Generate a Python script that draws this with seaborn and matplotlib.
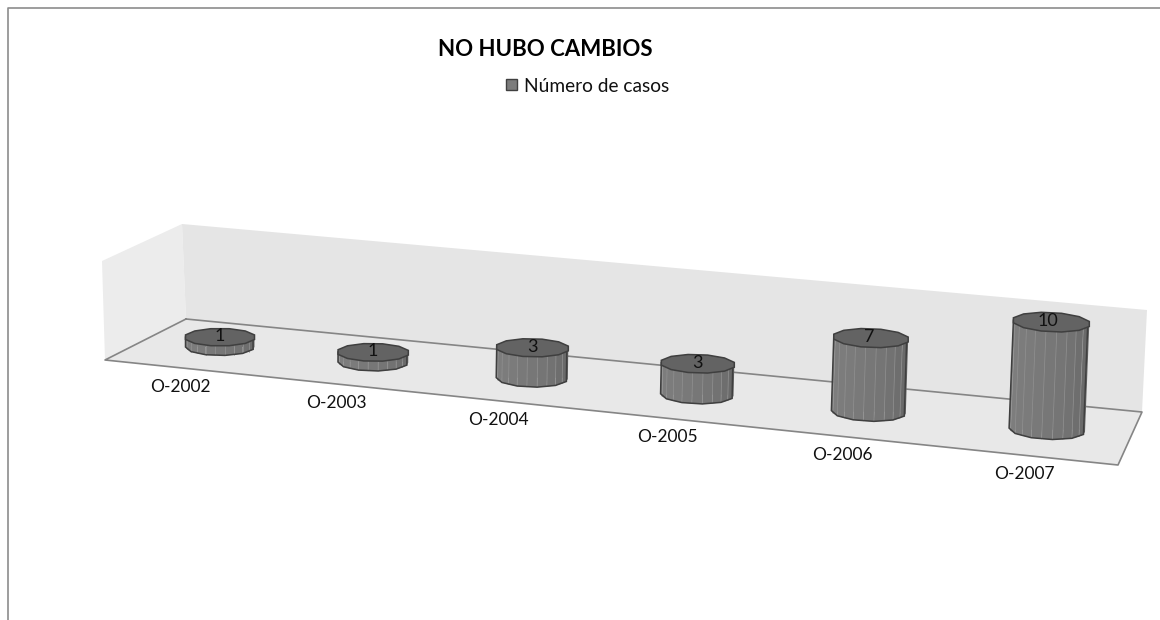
import numpy as np
import pandas as pd
import seaborn as sns
import matplotlib
matplotlib.use("Agg")
import matplotlib.pyplot as plt

# Data
periods = ["O-2002", "O-2003", "O-2004", "O-2005", "O-2006", "O-2007"]
casos = [1, 1, 3, 3, 7, 10]
serie = "Número de casos"
titulo = "NO HUBO CAMBIOS"

sns.set_theme(style="white")
plt.rcParams["font.family"] = ["Lato", "DejaVu Sans"]

fig, ax = plt.subplots(figsize=(11.6, 6.2), dpi=100)
ax.set_position([0, 0, 1, 1])

df = pd.DataFrame({"periodo": periods, "casos": casos})
sns.barplot(data=df, x="periodo", y="casos", color="#747474", saturation=1,
            label=serie, ax=ax, zorder=3)
bars = list(ax.patches)

# from here on the axes is in screen pixels, y going down
ax.set_xlim(0, 1160)
ax.set_ylim(620, 0)
ax.axis("off")


# perspective of the floor: category position -> screen centre, scale
def project(i, v=0):
    s = 1 / (1 - 0.01825 * i)
    cx = (220 + 146.3 * i) * s
    base = (347 + 8.75 * i) * s
    return cx, base, base - 9.8 * v * s, s


# chart frame
ax.plot([8, 8, 1160], [620, 8, 8], color="#8c8c8c", lw=1.2, zorder=1)

# walls and floor
ax.fill([102, 182, 186, 105], [261, 224, 319, 360], color="#ececec", lw=0, zorder=1)
ax.fill([182, 1147, 1142, 186], [224, 310, 412, 319], color="#e5e5e5", lw=0, zorder=1)
ax.fill([105, 186, 1142, 1118], [360, 319, 412, 465], color="#e8e8e8", lw=0, zorder=1)
ax.plot([186, 105, 1118, 1142, 186], [319, 360, 465, 412, 319],
        color="#858585", lw=1.2, zorder=2)

# cylinders
m = 11
for i, (bar, v) in enumerate(zip(bars, casos)):
    cx, base, top, s = project(i, v)
    a = 34.5 * s
    b = 8.5 * s
    h = base - top
    lean = 0.04 * h * i / 5
    tilt = 0.05 * i / 5

    bar.set_x(cx - a * 0.9)
    bar.set_width(a * 1.8)
    bar.set_y(top)
    bar.set_height(h)

    th = np.linspace(np.pi, 0, m + 1)
    xb = cx + a * np.cos(th)
    yb = base + b * np.sin(th) + tilt * a * np.cos(th)
    xt = xb + lean
    yt = top + b * np.sin(th) + tilt * a * np.cos(th)

    # side facets, darker to the right
    for k in range(m):
        g = 0.49 - 0.09 * (k / (m - 1)) ** 2
        ax.fill([xb[k], xb[k + 1], xt[k + 1], xt[k]],
                [yb[k], yb[k + 1], yt[k + 1], yt[k]],
                color=(g, g, g), lw=0, zorder=4)
    for k in range(1, m):
        ax.plot([xb[k], xt[k]], [yb[k], yt[k]], color="#929292", lw=0.5, zorder=5)

    # outline has fewer corners than the stripes
    xo = xb[::2]
    yo = yb[::2]
    ax.fill(np.r_[xo, xo[-1] + lean, xo[0] + lean], np.r_[yo, yt[-1], yt[0]],
            fill=False, ec="#3f3f3f", lw=1.1, zorder=6)

    # top, a many sided polygon
    ang = np.linspace(0, 2 * np.pi, 13)[:-1] + np.pi / 12
    ax.fill(cx + lean + a / np.cos(np.pi / 12) * np.cos(ang),
            top + b / np.cos(np.pi / 12) * np.sin(ang) + tilt * a * np.cos(ang),
            fc="#636363", ec="#3f3f3f", lw=1.1, zorder=7)

    ax.text(cx + lean * 0.3, top - 1, str(v), ha="center", va="center",
            fontsize=13, color="#111111", zorder=8)
    ax.text(cx - (40 - 3.4 * i), base + 40 * s, periods[i], ha="center", va="center",
            fontsize=12.5, color="#111111", zorder=8)

ax.text(545, 50, titulo, ha="center", va="center", fontsize=16,
        fontweight="bold", color="black")
leg = ax.legend(loc="center", bbox_to_anchor=(588 / 1160, 1 - 86 / 620), frameon=False,
                fontsize=13.8, handlelength=0.55, handleheight=0.55, handletextpad=0.4,
                labelcolor="#111111")
for p in leg.get_patches():
    p.set_facecolor("#7c7c7c")
    p.set_edgecolor("#404040")

fig.savefig("out.png", dpi=100)
